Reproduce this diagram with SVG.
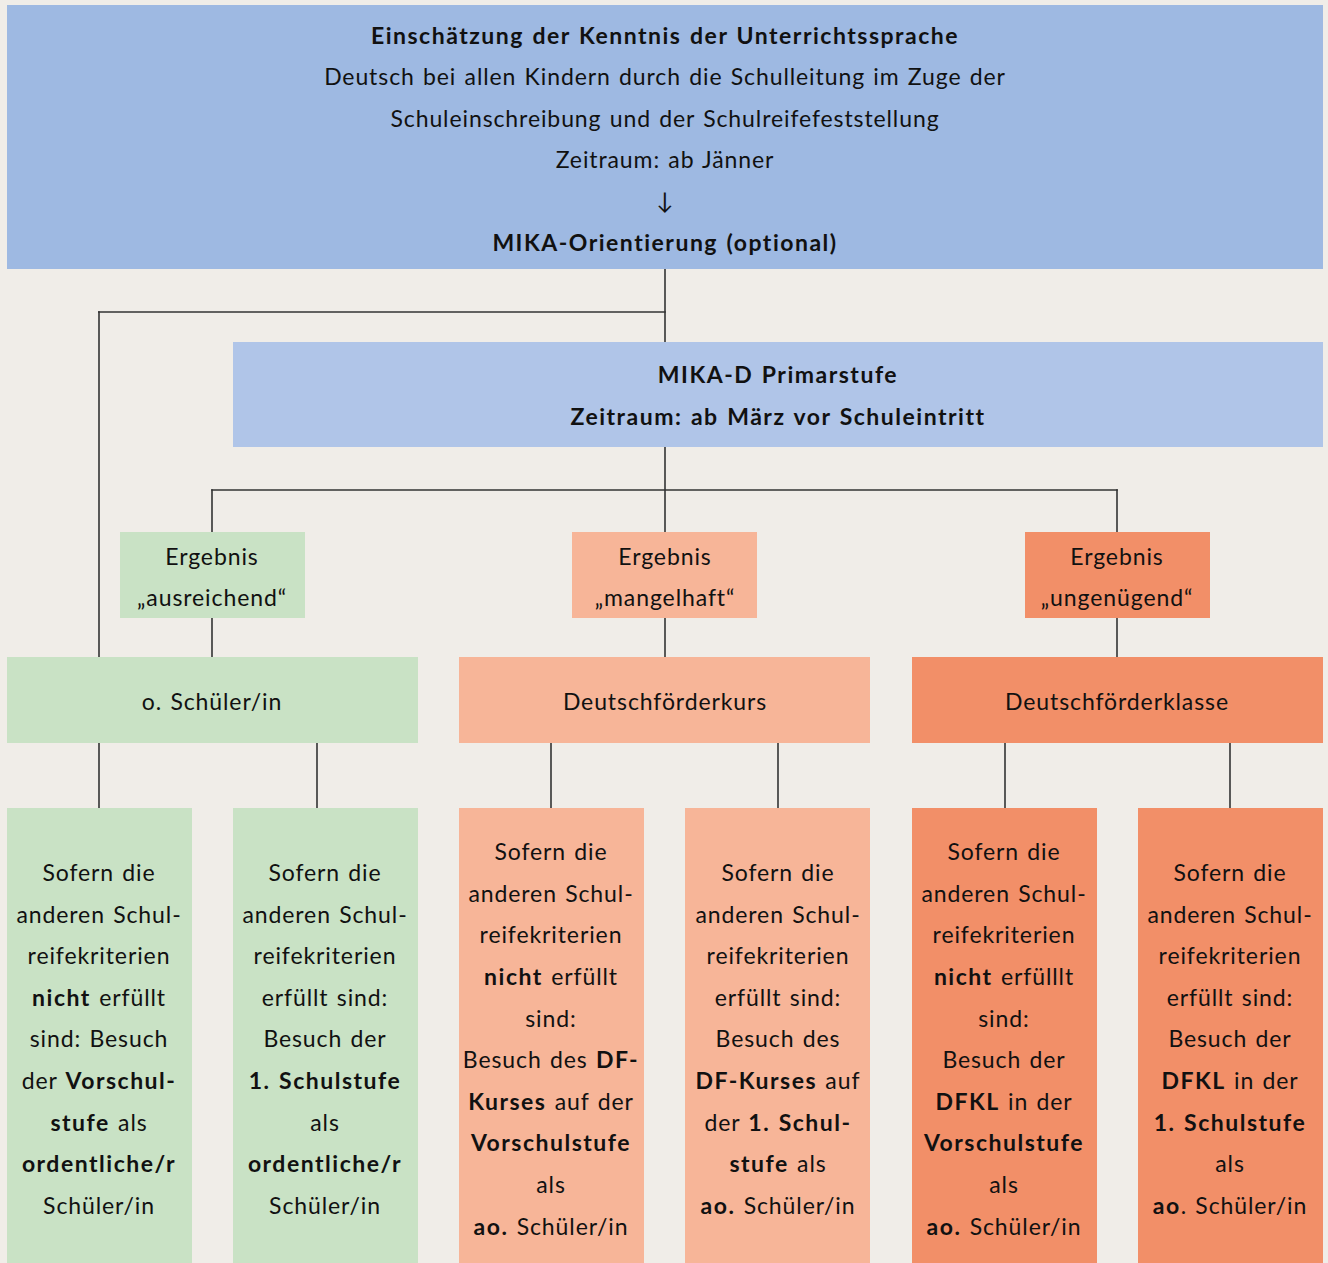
<svg xmlns="http://www.w3.org/2000/svg" width="1328" height="1263" viewBox="0 0 1328 1263">
<style>
text{font-family:Lato,"Noto Sans","Liberation Sans",sans-serif;font-size:23px;fill:#111;text-anchor:middle;letter-spacing:0.9px;word-spacing:1.5px}
.b{font-weight:bold;letter-spacing:1.5px}
.blue1{fill:#9eb9e2}
.blue2{fill:#b0c5e8}
.green{fill:#c9e2c5}
.light{fill:#f7b598}
.dark{fill:#f28f68}
.conn line{stroke:#333;stroke-width:1.6}
</style>
<rect width="1328" height="1263" fill="#f0ede8"/>
<g class="conn">
<line x1="665" y1="269" x2="665" y2="342"/>
<line x1="98" y1="312" x2="665.8" y2="312"/>
<line x1="99" y1="311.2" x2="99" y2="657"/>
<line x1="665" y1="447" x2="665" y2="532"/>
<line x1="211.2" y1="490" x2="1117.8" y2="490"/>
<line x1="212" y1="489.2" x2="212" y2="532"/>
<line x1="1117" y1="489.2" x2="1117" y2="532"/>
<line x1="212" y1="618" x2="212" y2="657"/>
<line x1="665" y1="618" x2="665" y2="657"/>
<line x1="1117" y1="618" x2="1117" y2="657"/>
<line x1="99" y1="743" x2="99" y2="808"/>
<line x1="317" y1="743" x2="317" y2="808"/>
<line x1="551" y1="743" x2="551" y2="808"/>
<line x1="778" y1="743" x2="778" y2="808"/>
<line x1="1005" y1="743" x2="1005" y2="808"/>
<line x1="1230" y1="743" x2="1230" y2="808"/>
</g>
<g id="top">
<rect class="blue1" x="7" y="5" width="1316" height="264"/>
<text x="665" y="44" class="b">Einschätzung der Kenntnis der Unterrichtssprache</text>
<text x="665" y="85">Deutsch bei allen Kindern durch die Schulleitung im Zuge der</text>
<text x="665" y="127">Schuleinschreibung und der Schulreifefeststellung</text>
<text x="665" y="168">Zeitraum: ab Jänner</text>
<text x="665" y="209">↓</text>
<text x="665" y="251" class="b">MIKA-Orientierung (optional)</text>
</g>
<g id="mikad">
<rect class="blue2" x="233" y="342" width="1090" height="105"/>
<text x="778" y="383" class="b">MIKA-D Primarstufe</text>
<text x="778" y="425" class="b">Zeitraum: ab März vor Schuleintritt</text>
</g>
<g id="erg1">
<rect class="green" x="120" y="532" width="185" height="86"/>
<text x="212" y="565">Ergebnis</text>
<text x="212" y="606">„ausreichend“</text>
</g>
<g id="erg2">
<rect class="light" x="572" y="532" width="185" height="86"/>
<text x="665" y="565">Ergebnis</text>
<text x="665" y="606">„mangelhaft“</text>
</g>
<g id="erg3">
<rect class="dark" x="1025" y="532" width="185" height="86"/>
<text x="1117" y="565">Ergebnis</text>
<text x="1117" y="606">„ungenügend“</text>
</g>
<g id="os">
<rect class="green" x="7" y="657" width="411" height="86"/>
<text x="212" y="710">o. Schüler/in</text>
</g>
<g id="dfk">
<rect class="light" x="459" y="657" width="411" height="86"/>
<text x="665" y="710">Deutschförderkurs</text>
</g>
<g id="dfkl">
<rect class="dark" x="912" y="657" width="411" height="86"/>
<text x="1117" y="710">Deutschförderklasse</text>
</g>
<g id="g1">
<rect class="green" x="7" y="808" width="185" height="455"/>
<text x="99" y="881">Sofern die</text>
<text x="99" y="923">anderen Schul-</text>
<text x="99" y="964">reifekriterien</text>
<text x="99" y="1006"><tspan class="b">nicht</tspan> erfüllt</text>
<text x="99" y="1047">sind: Besuch</text>
<text x="99" y="1089">der <tspan class="b">Vorschul-</tspan></text>
<text x="99" y="1131"><tspan class="b">stufe</tspan> als</text>
<text x="99" y="1172" class="b">ordentliche/r</text>
<text x="99" y="1214">Schüler/in</text>
</g>
<g id="g2">
<rect class="green" x="233" y="808" width="185" height="455"/>
<text x="325" y="881">Sofern die</text>
<text x="325" y="923">anderen Schul-</text>
<text x="325" y="964">reifekriterien</text>
<text x="325" y="1006">erfüllt sind:</text>
<text x="325" y="1047">Besuch der</text>
<text x="325" y="1089" class="b">1. Schulstufe</text>
<text x="325" y="1131">als</text>
<text x="325" y="1172" class="b">ordentliche/r</text>
<text x="325" y="1214">Schüler/in</text>
</g>
<g id="l1">
<rect class="light" x="459" y="808" width="185" height="455"/>
<text x="551" y="860">Sofern die</text>
<text x="551" y="902">anderen Schul-</text>
<text x="551" y="943">reifekriterien</text>
<text x="551" y="985"><tspan class="b">nicht</tspan> erfüllt</text>
<text x="551" y="1027">sind:</text>
<text x="551" y="1068">Besuch des <tspan class="b">DF-</tspan></text>
<text x="551" y="1110"><tspan class="b">Kurses</tspan> auf der</text>
<text x="551" y="1151" class="b">Vorschulstufe</text>
<text x="551" y="1193">als</text>
<text x="551" y="1235"><tspan class="b">ao.</tspan> Schüler/in</text>
</g>
<g id="l2">
<rect class="light" x="685" y="808" width="185" height="455"/>
<text x="778" y="881">Sofern die</text>
<text x="778" y="923">anderen Schul-</text>
<text x="778" y="964">reifekriterien</text>
<text x="778" y="1006">erfüllt sind:</text>
<text x="778" y="1047">Besuch des</text>
<text x="778" y="1089"><tspan class="b">DF-Kurses</tspan> auf</text>
<text x="778" y="1131">der <tspan class="b">1. Schul-</tspan></text>
<text x="778" y="1172"><tspan class="b">stufe</tspan> als</text>
<text x="778" y="1214"><tspan class="b">ao.</tspan> Schüler/in</text>
</g>
<g id="d1">
<rect class="dark" x="912" y="808" width="185" height="455"/>
<text x="1004" y="860">Sofern die</text>
<text x="1004" y="902">anderen Schul-</text>
<text x="1004" y="943">reifekriterien</text>
<text x="1004" y="985"><tspan class="b">nicht</tspan> erfülllt</text>
<text x="1004" y="1027">sind:</text>
<text x="1004" y="1068">Besuch der</text>
<text x="1004" y="1110"><tspan class="b">DFKL</tspan> in der</text>
<text x="1004" y="1151" class="b">Vorschulstufe</text>
<text x="1004" y="1193">als</text>
<text x="1004" y="1235"><tspan class="b">ao.</tspan> Schüler/in</text>
</g>
<g id="d2">
<rect class="dark" x="1138" y="808" width="185" height="455"/>
<text x="1230" y="881">Sofern die</text>
<text x="1230" y="923">anderen Schul-</text>
<text x="1230" y="964">reifekriterien</text>
<text x="1230" y="1006">erfüllt sind:</text>
<text x="1230" y="1047">Besuch der</text>
<text x="1230" y="1089"><tspan class="b">DFKL</tspan> in der</text>
<text x="1230" y="1131" class="b">1. Schulstufe</text>
<text x="1230" y="1172">als</text>
<text x="1230" y="1214"><tspan class="b">ao</tspan>. Schüler/in</text>
</g>
</svg>
